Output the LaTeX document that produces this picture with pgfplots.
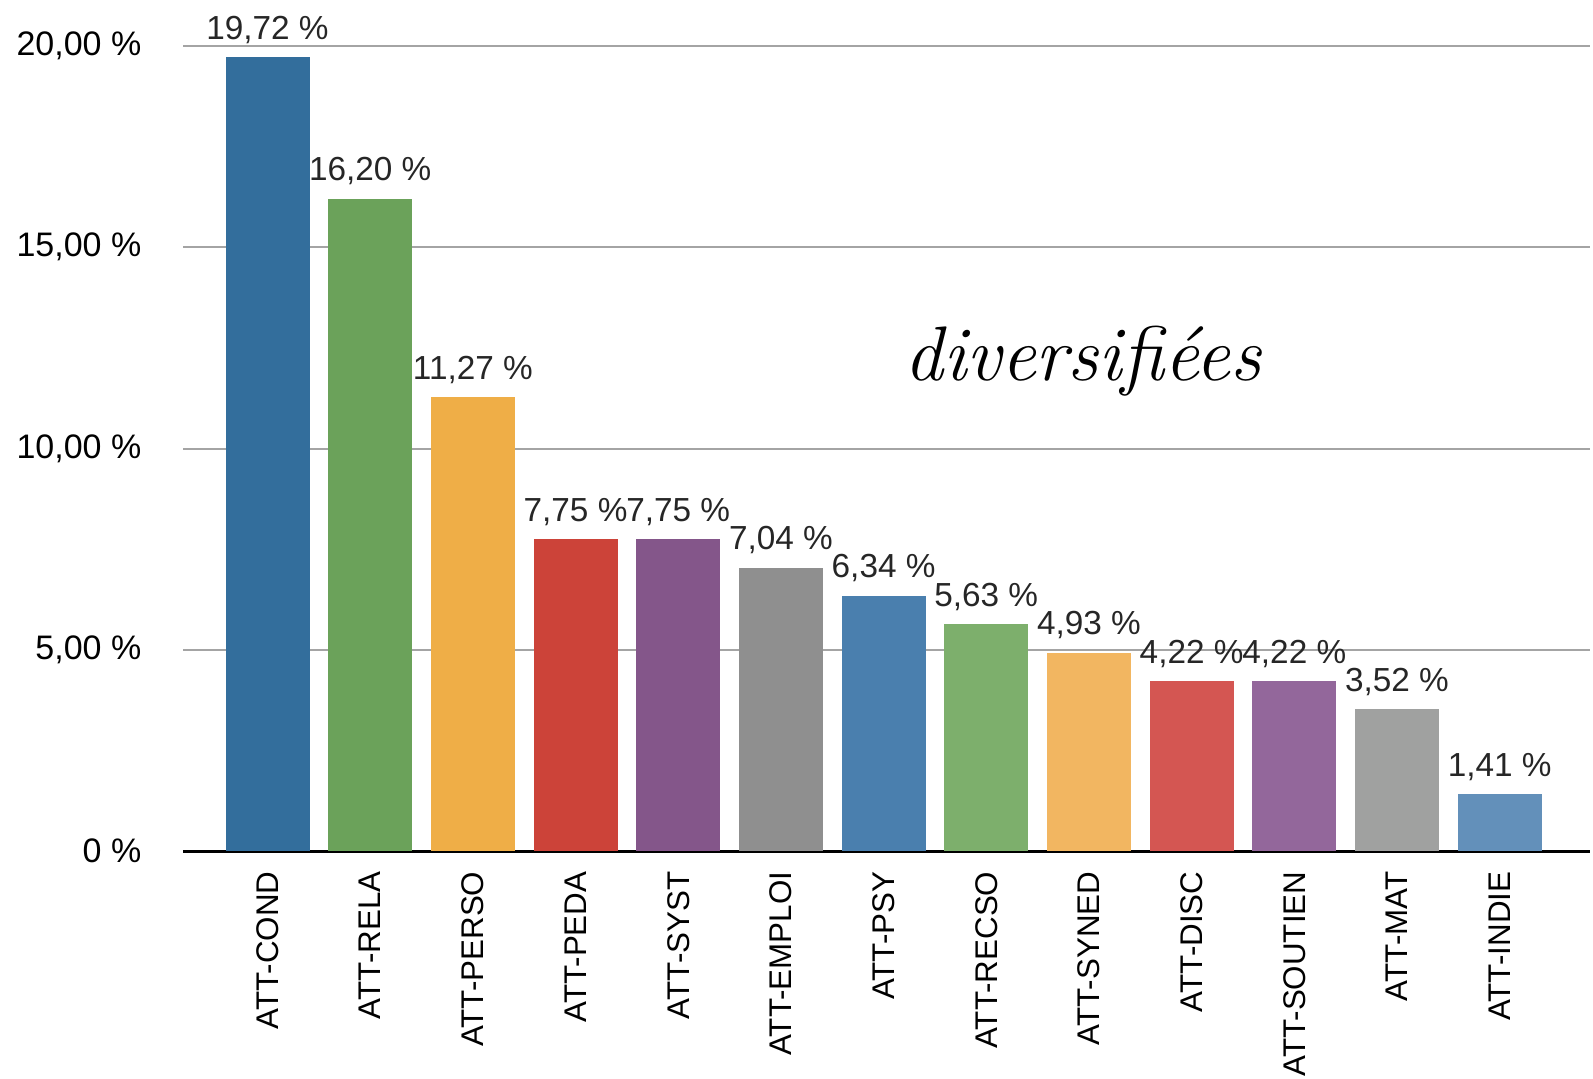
\documentclass[border=0pt]{standalone}
\usepackage{pgfplots}
\pgfplotsset{compat=1.18}
\usepackage{fontspec}
\setmainfont{Liberation Sans}

\definecolor{cA}{HTML}{336E9C}
\definecolor{cB}{HTML}{6BA25A}
\definecolor{cC}{HTML}{EFAE47}
\definecolor{cD}{HTML}{CC4339}
\definecolor{cE}{HTML}{84568A}
\definecolor{cF}{HTML}{8F8F8F}
\definecolor{cG}{HTML}{4A7FAE}
\definecolor{cH}{HTML}{7DAF6C}
\definecolor{cI}{HTML}{F2B661}
\definecolor{cJ}{HTML}{D45652}
\definecolor{cK}{HTML}{93679B}
\definecolor{cL}{HTML}{A0A1A0}
\definecolor{cM}{HTML}{6390BA}
\definecolor{gridgray}{HTML}{A4A4A4}

\begin{document}
\begin{tikzpicture}

\begin{axis}[
  at={(0,0)}, anchor=south west,
  width=422.1pt, height=241.5pt,
  scale only axis,
  ybar,
  ymin=0, ymax=20,
  xmin=-0.823, xmax=12.88,
  ytick={0,5,10,15,20},
  yticklabels={0 \%, {5,00 \%}, {10,00 \%}, {15,00 \%}, {20,00 \%}},
  xtick={0,...,12},
  xticklabels={ATT-COND,ATT-RELA,ATT-PERSO,ATT-PEDA,ATT-SYST,ATT-EMPLOI,ATT-PSY,ATT-RECSO,ATT-SYNED,ATT-DISC,ATT-SOUTIEN,ATT-MAT,ATT-INDIE},
  major tick length=0pt,
  yticklabel style={font=\fontsize{10.2}{12}\selectfont, anchor=east, inner sep=0pt, xshift=-12.3pt},
  xticklabel style={font=\fontsize{9.4}{11}\selectfont, rotate=90, anchor=east, inner sep=0pt, inner xsep=6pt},
  /pgf/number format/assume math mode=true,
  ymajorgrids,
  grid style={gridgray, line width=0.6pt},
  axis x line*=bottom,
  axis y line*=left,
  y axis line style={draw=none},
  x axis line style={black, line width=0.9pt},
  clip=false,
  point meta=explicit symbolic,
  nodes near coords,
  nodes near coords style={font=\fontsize{10}{12}\selectfont, anchor=base, inner sep=0pt, yshift=5.4pt, text=black!85},
  mybar/.style={fill=#1, draw=none, bar width=25.2pt, bar shift=0pt},
]
\addplot[mybar=cA] coordinates {(0,19.72) [19,72 \%]};
\addplot[mybar=cB] coordinates {(1,16.20) [16,20 \%]};
\addplot[mybar=cC] coordinates {(2,11.27) [11,27 \%]};
\addplot[mybar=cD] coordinates {(3,7.75) [7,75 \%]};
\addplot[mybar=cE] coordinates {(4,7.75) [7,75 \%]};
\addplot[mybar=cF] coordinates {(5,7.04) [7,04 \%]};
\addplot[mybar=cG] coordinates {(6,6.34) [6,34 \%]};
\addplot[mybar=cH] coordinates {(7,5.63) [5,63 \%]};
\addplot[mybar=cI] coordinates {(8,4.93) [4,93 \%]};
\addplot[mybar=cJ] coordinates {(9,4.22) [4,22 \%]};
\addplot[mybar=cK] coordinates {(10,4.22) [4,22 \%]};
\addplot[mybar=cL] coordinates {(11,3.52) [3,52 \%]};
\addplot[mybar=cM] coordinates {(12,1.41) [1,41 \%]};

\node[font=\fontfamily{lmr}\fontshape{it}\fontsize{23.2}{27}\selectfont, anchor=base]
  at (axis cs:7.94,11.7) {diversifiées};
\end{axis}

% page size fixed to the reference proportions
\pgfresetboundingbox
\useasboundingbox (-54.9pt,-68.1pt) rectangle (423pt,255.3pt);
\end{tikzpicture}
\end{document}
